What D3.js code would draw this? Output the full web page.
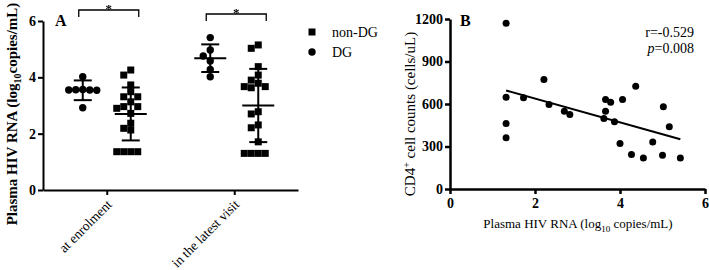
<!DOCTYPE html>
<html>
<head>
<meta charset="utf-8">
<script src="https://cdn.jsdelivr.net/npm/d3@7"></script>
<style>
  body { margin: 0; background: #fff; }
  svg { display: block; }
  text { font-family: "Liberation Serif", "Times New Roman", serif; fill: #000; }
  .star { filter: grayscale(1); }
</style>
</head>
<body>
<div id="chart"></div>
<script>
// ---- Panel A data (log10 copies/mL) ----
const visits = ["at enrolment", "in the latest visit"];
const groups = ["DG", "non-DG"];
const dgEnrol = [4.02, 3.56, 3.55, 3.54, 3.55, 3.57, 2.92];
const nonDgEnrol = [4.26, 4.08, 3.73, 3.49, 3.31, 3.31, 3.13, 2.96, 2.96, 2.9, 2.72, 2.37, 2.19, 2.13, 1.36, 1.36, 1.36, 1.36];
const dgLatest = [5.41, 4.97, 4.76, 4.58, 4.28, 4.02];
const nonDgLatest = [5.15, 5.03, 4.38, 4.08, 3.9, 3.79, 3.67, 3.63, 3.67, 2.78, 2.7, 2.31, 2.21, 1.71, 1.3, 1.3, 1.3, 1.3];
// mean and SD (DG enrol, nonDG enrol, DG latest, nonDG latest)
const means = [3.54, 2.7, 4.68, 3.0];
const sds = [0.35, 0.94, 0.49, 1.3];
const yTicksA = [0, 2, 4, 6];

// ---- Panel B data ----
const rnaB = [1.32, 1.32, 1.32, 1.32, 1.73, 2.21, 2.33, 2.69, 2.82, 3.62, 3.66, 3.66, 3.78, 3.87, 4.06, 4.0, 4.37, 4.27, 4.55, 4.77, 5.02, 5.0, 5.16, 5.42];
const cd4B = [1170, 648, 462, 361, 644, 773, 596, 549, 526, 497, 549, 632, 613, 474, 632, 321, 726, 243, 219, 332, 580, 238, 439, 219];
const xTicksB = [0, 2, 4, 6];
const yTicksB = [0, 300, 600, 900, 1200];

const width = 709, height = 270;
const svg = d3.select("#chart").append("svg")
    .attr("width", width)
    .attr("height", height);

// ================= Panel A =================
const xA = d3.scalePoint().domain(visits).range([43, 298]).padding(0.5);
const yA = d3.scaleLinear().domain([0, 6]).range([190, 21]);
const groupOffset = { "DG": -24, "non-DG": 24 };

const axA = svg.append("g");
axA.append("g")
    .attr("transform", "translate(43,0)")
    .call(d3.axisLeft(yA).tickValues(yTicksA).tickFormat(d3.format("d")).tickSize(5).tickPadding(2).tickSizeOuter(0))
    .call(g => g.selectAll("text").style("font-size", "14px").style("font-weight", "bold").style("font-family", "Liberation Serif"));
axA.append("g")
    .attr("transform", "translate(0,190)")
    .call(d3.axisBottom(xA).tickSize(5).tickSizeOuter(0))
    .call(g => g.selectAll("text")
        .style("font-size", "13.5px")
        .style("font-family", "Liberation Serif")
        .attr("text-anchor", "end")
        .attr("x", 0).attr("y", 0)
        .attr("dy", "0.35em")
        .attr("transform", "translate(2,12) rotate(-45)"));
axA.selectAll(".domain, .tick line").attr("stroke", "#000").attr("stroke-width", 2);

// simple beeswarm so overlapping points spread sideways
function swarm(values, cx, size) {
  const placed = [];
  const sorted = values.map((v, i) => ({ v, i })).sort((a, b) => b.v - a.v);
  sorted.forEach(p => {
    const py = yA(p.v);
    for (let k = 0; k < 20; k++) {
      const off = (k % 2 === 0 ? 1 : -1) * Math.ceil(k / 2) * size;
      const ok = placed.every(q => Math.hypot(q.x - (cx + off), q.y - py) >= size * 0.95);
      if (ok) { placed.push({ x: cx + off, y: py, v: p.v }); break; }
    }
  });
  return placed;
}

const sets = [
  { vals: dgEnrol, visit: visits[0], group: "DG" },
  { vals: nonDgEnrol, visit: visits[0], group: "non-DG" },
  { vals: dgLatest, visit: visits[1], group: "DG" },
  { vals: nonDgLatest, visit: visits[1], group: "non-DG" }
];

sets.forEach((s, i) => {
  const cx = xA(s.visit) + groupOffset[s.group];
  const pts = swarm(s.vals, cx, 7);
  if (s.group === "DG") {
    svg.append("g").selectAll("circle").data(pts).enter().append("circle")
      .attr("cx", d => d.x).attr("cy", d => d.y).attr("r", 3.7).attr("fill", "#000");
  } else {
    svg.append("g").selectAll("rect").data(pts).enter().append("rect")
      .attr("x", d => d.x - 3.5).attr("y", d => d.y - 3.5)
      .attr("width", 7).attr("height", 7).attr("fill", "#000");
  }
  // mean +/- SD
  const eb = svg.append("g").attr("stroke", "#000").attr("stroke-width", 2);
  const m = means[i], sd = sds[i];
  eb.append("line").attr("x1", cx).attr("x2", cx).attr("y1", yA(m + sd)).attr("y2", yA(m - sd));
  eb.append("line").attr("x1", cx - 16).attr("x2", cx + 16).attr("y1", yA(m)).attr("y2", yA(m));
  [m + sd, m - sd].forEach(v => {
    eb.append("line").attr("x1", cx - 9).attr("x2", cx + 9).attr("y1", yA(v)).attr("y2", yA(v));
  });
});

// significance brackets
const brackets = [{ visit: visits[0], y: 10 }, { visit: visits[1], y: 14 }];
brackets.forEach(b => {
  const x1 = xA(b.visit) + groupOffset["DG"] - 4;
  const x2 = xA(b.visit) + groupOffset["non-DG"] + 8;
  svg.append("path")
    .attr("d", `M${x1},${b.y + 7}V${b.y}H${x2}V${b.y + 7}`)
    .attr("fill", "none").attr("stroke", "#000").attr("stroke-width", 1.3);
  svg.append("text").attr("class", "star")
    .attr("x", (x1 + x2) / 2).attr("y", b.y + 3)
    .attr("text-anchor", "middle").attr("fill", "#000")
    .style("font-size", "13px").style("font-weight", "bold").text("*");
});

svg.append("text").attr("x", 55).attr("y", 26).style("font-size", "16px").style("font-weight", "bold").text("A");

// y label A
svg.append("text")
  .attr("transform", "translate(17,114) rotate(-90)")
  .attr("text-anchor", "middle")
  .style("font-size", "15px")
  .style("font-weight", "bold")
  .html('Plasma HIV RNA (log<tspan dy="4" font-size="10">10</tspan><tspan dy="-4">copies/mL)</tspan>');

// legend
const legend = svg.append("g");
legend.append("rect").attr("x", 308.5).attr("y", 28.5).attr("width", 7).attr("height", 7).attr("fill", "#000");
legend.append("text").attr("x", 332).attr("y", 37).style("font-size", "14px").text("non-DG");
legend.append("circle").attr("cx", 312).attr("cy", 52).attr("r", 3.7).attr("fill", "#000");
legend.append("text").attr("x", 332).attr("y", 57).style("font-size", "14px").text("DG");

// ================= Panel B =================
const xB = d3.scaleLinear().domain([0, 6]).range([450, 705]);
const yB = d3.scaleLinear().domain([0, 1200]).range([189, 19]);

const axB = svg.append("g");
axB.append("g")
    .attr("transform", "translate(450,0)")
    .call(d3.axisLeft(yB).tickValues(yTicksB).tickFormat(d3.format("d")).tickSize(5).tickPadding(2).tickSizeOuter(0));
axB.append("g")
    .attr("transform", "translate(0,189)")
    .call(d3.axisBottom(xB).tickValues(xTicksB).tickFormat(d3.format("d")).tickSize(5).tickPadding(4).tickSizeOuter(0));
axB.selectAll("text").style("font-size", "14px").style("font-weight", "bold").style("font-family", "Liberation Serif");
axB.selectAll(".domain, .tick line").attr("stroke", "#000").attr("stroke-width", 2.5);

svg.append("g").selectAll("circle").data(rnaB).enter().append("circle")
  .attr("cx", d => xB(d)).attr("cy", (d, i) => yB(cd4B[i])).attr("r", 3.5).attr("fill", "#000");

// least squares line
const mx = d3.mean(rnaB), my = d3.mean(cd4B);
let sxy = 0, sxx = 0;
rnaB.forEach((x, i) => { sxy += (x - mx) * (cd4B[i] - my); sxx += (x - mx) * (x - mx); });
const slope = sxy / sxx, icpt = my - slope * mx;
const [xmin, xmax] = d3.extent(rnaB);
svg.append("line")
  .attr("x1", xB(xmin)).attr("y1", yB(icpt + slope * xmin))
  .attr("x2", xB(xmax)).attr("y2", yB(icpt + slope * xmax))
  .attr("stroke", "#000").attr("stroke-width", 2);

svg.append("text").attr("x", 460).attr("y", 26).style("font-size", "16px").style("font-weight", "bold").text("B");
svg.append("text").attr("x", 694).attr("y", 37).attr("text-anchor", "end").style("font-size", "14px").text("r=-0.529");
svg.append("text").attr("x", 694).attr("y", 53).attr("text-anchor", "end").style("font-size", "14px")
  .html('<tspan font-style="italic">p</tspan>=0.008');

svg.append("text")
  .attr("x", 578).attr("y", 228)
  .attr("text-anchor", "middle")
  .style("font-size", "13px")
  .html('Plasma HIV RNA (log<tspan dy="4" font-size="9">10</tspan><tspan dy="-4"> copies/mL)</tspan>');

svg.append("text")
  .attr("transform", "translate(415,114) rotate(-90)")
  .attr("text-anchor", "middle")
  .style("font-size", "15px")
  .html('CD4<tspan dy="-5" font-size="10">+</tspan><tspan dy="5"> cell counts (cells/uL)</tspan>');
</script>
</body>
</html>
